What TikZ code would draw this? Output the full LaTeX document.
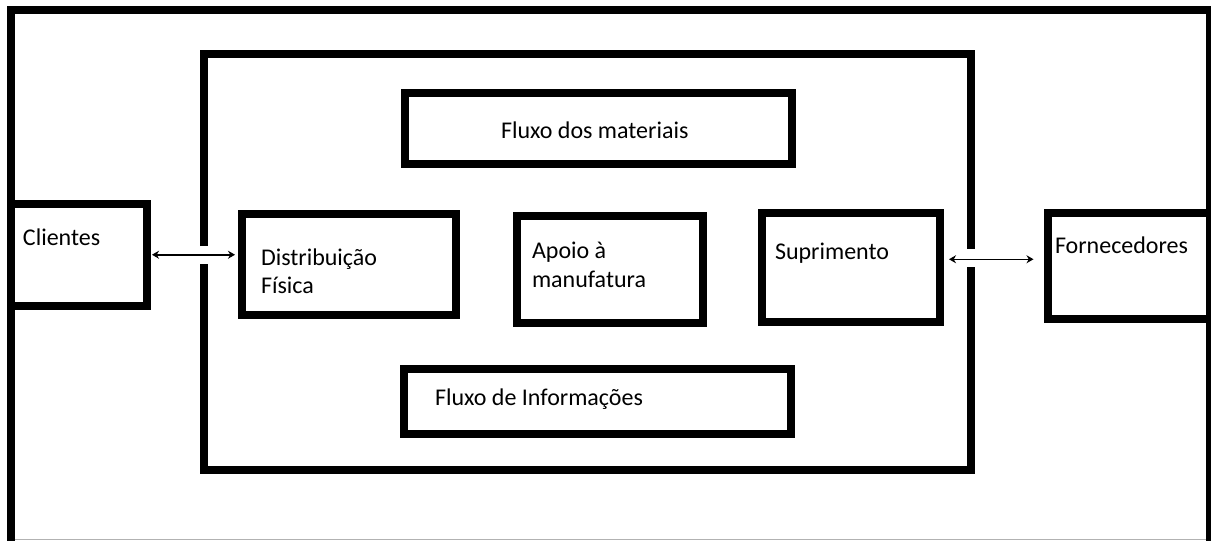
\documentclass[tikz,border=0pt]{standalone}
\usepackage{fontspec}
\setmainfont{Carlito}
\usetikzlibrary{arrows.meta}
\tikzset{
  box/.style={draw=black, line width=8pt, rectangle, inner sep=0pt, fill=none},
  lbl/.style={anchor=base west, inner sep=0pt, outer sep=0pt, text=black,
              font=\fontsize{24}{29}\selectfont},
  frame/.style={draw=black, line width=8pt, line join=miter, line cap=butt},
  arr/.style={draw=black, line width=1.5pt, {Stealth[length=7pt,width=8pt]}-{Stealth[length=7pt,width=8pt]}}
}
\begin{document}
\begin{tikzpicture}[x=1pt,y=-1pt]
\useasboundingbox (0,0) rectangle (1211,541);
\begin{scope}
\clip (0,0) rectangle (1211,541);
% outer frame (cut by the image edges)
\draw[frame] (11,560) -- (11,10) -- (1210,10) -- (1210,560);
\draw[gray!60, line width=1.2pt] (15,539.6) -- (1206,539.6);

% inner frame with openings for the arrows
\draw[frame] (204,246) -- (204,54) -- (970.5,54) -- (970.5,249);
\draw[frame] (970.5,267) -- (970.5,469.5) -- (204,469.5) -- (204,264);

% boxes
\node[box, minimum width=135.5pt, minimum height=101.5pt] (clientes) at (78.75,254.75) {};
\node[box, minimum width=213.5pt, minimum height=101pt] (distrib) at (348.75,264.5) {};
\node[box, minimum width=186pt, minimum height=107pt] (apoio) at (610,269.5) {};
\node[box, minimum width=178pt, minimum height=109.5pt] (supr) at (851,267.25) {};
\node[box, minimum width=162.5pt, minimum height=106.5pt] (forn) at (1128.75,265.75) {};
\node[box, minimum width=387pt, minimum height=71.5pt] (fmat) at (598.5,128.25) {};
\node[box, minimum width=387pt, minimum height=65.5pt] (finfo) at (597.5,401.25) {};

% labels
\node[lbl] (clientesT) at (23,245.5) {Clientes};
\node[lbl] (distribT1) at (261,265) {Distribuição};
\node[lbl] (distribT2) at (261,293.5) {Física};
\node[lbl] (apoioT1) at (532,258) {Apoio à};
\node[lbl] (apoioT2) at (532,287) {manufatura};
\node[lbl] (suprT) at (775,259) {Suprimento};
\node[lbl] (fornT) at (1055,253) {Fornecedores};
\node[lbl] (fmatT) at (501,138.5) {Fluxo dos materiais};
\node[lbl] (finfoT) at (435,405.5) {Fluxo de Informações};

% connectors
\draw[arr, shorten <=1.5pt, shorten >=3pt] (clientes.east) -- (clientes.east -| distrib.west);
\coordinate (ra) at ([yshift=8pt]supr.east);
\draw[arr, shorten <=5pt, shorten >=10pt] (ra) -- (ra -| forn.west);
\end{scope}
\end{tikzpicture}
\end{document}
